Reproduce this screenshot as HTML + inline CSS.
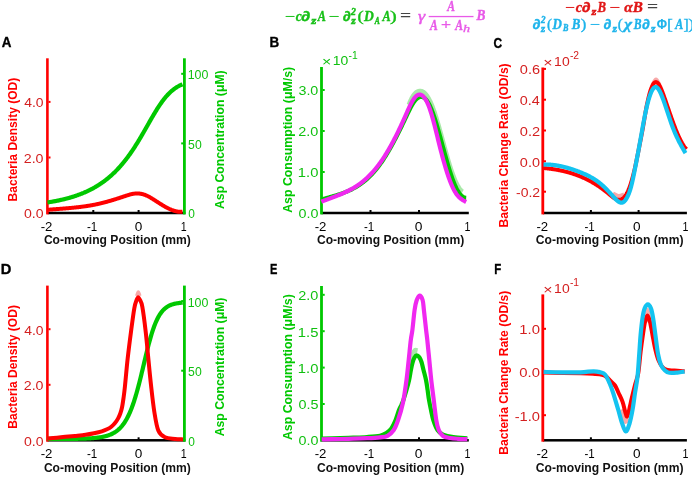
<!DOCTYPE html>
<html><head><meta charset="utf-8"><style>
html,body{margin:0;padding:0;background:#fff;overflow:hidden}
svg{display:block;will-change:transform}
text{font-family:"Liberation Sans",sans-serif}
</style></head><body>
<svg width="692" height="480" viewBox="0 0 692 480">
<rect width="692" height="480" fill="#fff"/>
<text x="1.67" y="46.90" font-size="14" font-weight="bold" fill="#000" textLength="9.69" lengthAdjust="spacingAndGlyphs" stroke="#000" stroke-width="0.35">A</text>
<text x="269.50" y="46.90" font-size="14" font-weight="bold" fill="#000" textLength="9.71" lengthAdjust="spacingAndGlyphs" stroke="#000" stroke-width="0.35">B</text>
<text x="493.51" y="47.50" font-size="14" font-weight="bold" fill="#000" textLength="8.62" lengthAdjust="spacingAndGlyphs" stroke="#000" stroke-width="0.35">C</text>
<text x="0.82" y="273.90" font-size="14" font-weight="bold" fill="#000" textLength="10.60" lengthAdjust="spacingAndGlyphs" stroke="#000" stroke-width="0.35">D</text>
<text x="270.06" y="273.90" font-size="14" font-weight="bold" fill="#000" textLength="7.37" lengthAdjust="spacingAndGlyphs" stroke="#000" stroke-width="0.35">E</text>
<text x="494.24" y="273.90" font-size="14" font-weight="bold" fill="#000" textLength="6.98" lengthAdjust="spacingAndGlyphs" stroke="#000" stroke-width="0.35">F</text>
<rect x="47.50" y="211.75" width="137.80" height="2.50" fill="#000"/>
<rect x="92.30" y="210.00" width="2" height="2" fill="#000"/>
<rect x="137.60" y="210.00" width="2" height="2" fill="#000"/>
<text x="40.71" y="230.60" font-size="13" font-weight="normal" fill="#000" textLength="11.75" lengthAdjust="spacingAndGlyphs">-2</text>
<text x="86.89" y="230.60" font-size="13" font-weight="normal" fill="#000" textLength="10.28" lengthAdjust="spacingAndGlyphs">-1</text>
<text x="134.67" y="230.60" font-size="13" font-weight="normal" fill="#000" textLength="7.56" lengthAdjust="spacingAndGlyphs">0</text>
<text x="180.69" y="230.60" font-size="13" font-weight="normal" fill="#000" textLength="5.93" lengthAdjust="spacingAndGlyphs">1</text>
<rect x="46.10" y="58.30" width="2.60" height="156.10" fill="#ff0000"/>
<rect x="48.50" y="156.50" width="2" height="2" fill="#ff0000"/>
<rect x="48.50" y="100.90" width="2" height="2" fill="#ff0000"/>
<text x="23.95" y="218.40" font-size="13" font-weight="normal" fill="#d42020" textLength="19.60" lengthAdjust="spacingAndGlyphs">0.0</text>
<text x="23.78" y="162.90" font-size="13" font-weight="normal" fill="#d42020" textLength="19.77" lengthAdjust="spacingAndGlyphs">2.0</text>
<text x="24.18" y="107.30" font-size="13" font-weight="normal" fill="#d42020" textLength="19.36" lengthAdjust="spacingAndGlyphs">4.0</text>
<rect x="183.00" y="58.30" width="2.80" height="156.10" fill="#00c800"/>
<rect x="181.20" y="142.40" width="2" height="2" fill="#00c800"/>
<rect x="181.20" y="72.80" width="2" height="2" fill="#00c800"/>
<text x="188.13" y="218.40" font-size="13" font-weight="normal" fill="#10c010" textLength="6.63" lengthAdjust="spacingAndGlyphs">0</text>
<text x="188.11" y="148.80" font-size="13" font-weight="normal" fill="#10c010" textLength="13.56" lengthAdjust="spacingAndGlyphs">50</text>
<text x="187.65" y="79.20" font-size="13" font-weight="normal" fill="#10c010" textLength="20.73" lengthAdjust="spacingAndGlyphs">100</text>
<text x="43.90" y="244.20" font-size="12" font-weight="bold" fill="#111" textLength="147.00" lengthAdjust="spacingAndGlyphs">Co-moving Position (mm)</text>
<text transform="translate(17.30,200.60) rotate(-90)" x="-0.80" y="0" font-size="12" font-weight="bold" fill="#ff0000" textLength="123.60" lengthAdjust="spacingAndGlyphs">Bacteria Density (OD)</text>
<text transform="translate(224.00,208.70) rotate(-90)" x="-0.30" y="0" font-size="12" font-weight="bold" fill="#00c800" textLength="138.71" lengthAdjust="spacingAndGlyphs">Asp Concentration (μM)</text>
<path d="M47.50,202.45 L48.00,202.38 L48.50,202.30 L49.00,202.22 L49.50,202.14 L50.00,202.05 L50.50,201.97 L51.00,201.89 L51.50,201.80 L52.00,201.71 L52.50,201.62 L53.00,201.53 L53.50,201.44 L54.00,201.35 L54.50,201.26 L55.00,201.16 L55.50,201.07 L56.00,200.97 L56.50,200.87 L57.00,200.77 L57.50,200.67 L58.00,200.57 L58.50,200.46 L59.00,200.36 L59.50,200.25 L60.00,200.14 L60.50,200.03 L61.00,199.92 L61.50,199.81 L62.00,199.69 L62.50,199.57 L63.00,199.46 L63.50,199.34 L64.00,199.21 L64.50,199.09 L65.00,198.97 L65.50,198.84 L66.00,198.71 L66.50,198.58 L67.00,198.45 L67.50,198.31 L68.00,198.18 L68.50,198.04 L69.00,197.90 L69.50,197.76 L70.00,197.62 L70.50,197.47 L71.00,197.32 L71.50,197.17 L72.00,197.02 L72.50,196.87 L73.00,196.71 L73.50,196.55 L74.00,196.39 L74.50,196.23 L75.00,196.07 L75.50,195.90 L76.00,195.73 L76.50,195.56 L77.00,195.38 L77.50,195.21 L78.00,195.03 L78.50,194.85 L79.00,194.66 L79.50,194.48 L80.00,194.29 L80.50,194.09 L81.00,193.90 L81.50,193.70 L82.00,193.50 L82.50,193.30 L83.00,193.09 L83.50,192.89 L84.00,192.67 L84.50,192.46 L85.00,192.24 L85.50,192.02 L86.00,191.80 L86.50,191.57 L87.00,191.34 L87.50,191.11 L88.00,190.87 L88.50,190.63 L89.00,190.39 L89.50,190.15 L90.00,189.90 L90.50,189.64 L91.00,189.39 L91.50,189.13 L92.00,188.86 L92.50,188.60 L93.00,188.32 L93.50,188.05 L94.00,187.77 L94.50,187.49 L95.00,187.20 L95.50,186.91 L96.00,186.62 L96.50,186.32 L97.00,186.02 L97.50,185.71 L98.00,185.40 L98.50,185.08 L99.00,184.77 L99.50,184.44 L100.00,184.11 L100.50,183.78 L101.00,183.44 L101.50,183.10 L102.00,182.75 L102.50,182.40 L103.00,182.05 L103.50,181.69 L104.00,181.32 L104.50,180.95 L105.00,180.57 L105.50,180.19 L106.00,179.80 L106.50,179.41 L107.00,179.02 L107.50,178.61 L108.00,178.21 L108.50,177.79 L109.00,177.37 L109.50,176.95 L110.00,176.52 L110.50,176.08 L111.00,175.64 L111.50,175.19 L112.00,174.74 L112.50,174.28 L113.00,173.82 L113.50,173.34 L114.00,172.87 L114.50,172.38 L115.00,171.89 L115.50,171.39 L116.00,170.89 L116.50,170.38 L117.00,169.86 L117.50,169.34 L118.00,168.81 L118.50,168.27 L119.00,167.73 L119.50,167.18 L120.00,166.62 L120.50,166.06 L121.00,165.49 L121.50,164.91 L122.00,164.32 L122.50,163.73 L123.00,163.13 L123.50,162.52 L124.00,161.91 L124.50,161.28 L125.00,160.66 L125.50,160.02 L126.00,159.37 L126.50,158.72 L127.00,158.06 L127.50,157.40 L128.00,156.72 L128.50,156.04 L129.00,155.35 L129.50,154.66 L130.00,153.95 L130.50,153.24 L131.00,152.52 L131.50,151.80 L132.00,151.06 L132.50,150.32 L133.00,149.58 L133.50,148.82 L134.00,148.06 L134.50,147.29 L135.00,146.52 L135.50,145.73 L136.00,144.94 L136.50,144.15 L137.00,143.35 L137.50,142.54 L138.00,141.73 L138.50,140.91 L139.00,140.08 L139.50,139.25 L140.00,138.41 L140.50,137.57 L141.00,136.73 L141.50,135.88 L142.00,135.02 L142.50,134.16 L143.00,133.30 L143.50,132.43 L144.00,131.56 L144.50,130.69 L145.00,129.82 L145.50,128.94 L146.00,128.06 L146.50,127.19 L147.00,126.31 L147.50,125.43 L148.00,124.55 L148.50,123.67 L149.00,122.79 L149.50,121.91 L150.00,121.03 L150.50,120.16 L151.00,119.29 L151.50,118.42 L152.00,117.56 L152.50,116.70 L153.00,115.84 L153.50,114.99 L154.00,114.15 L154.50,113.31 L155.00,112.48 L155.50,111.65 L156.00,110.84 L156.50,110.03 L157.00,109.23 L157.50,108.44 L158.00,107.65 L158.50,106.88 L159.00,106.12 L159.50,105.37 L160.00,104.63 L160.50,103.90 L161.00,103.18 L161.50,102.47 L162.00,101.78 L162.50,101.10 L163.00,100.43 L163.50,99.77 L164.00,99.13 L164.50,98.50 L165.00,97.89 L165.50,97.28 L166.00,96.69 L166.50,96.12 L167.00,95.56 L167.50,95.01 L168.00,94.47 L168.50,93.95 L169.00,93.44 L169.50,92.95 L170.00,92.47 L170.50,92.00 L171.00,91.55 L171.50,91.11 L172.00,90.68 L172.50,90.27 L173.00,89.87 L173.50,89.48 L174.00,89.10 L174.50,88.73 L175.00,88.38 L175.50,88.04 L176.00,87.71 L176.50,87.39 L177.00,87.08 L177.50,86.78 L178.00,86.50 L178.50,86.22 L179.00,85.95 L179.50,85.69 L180.00,85.45 L180.50,85.21 L181.00,84.98 L181.50,84.76 L182.00,84.54 L182.50,84.34" fill="none" stroke="#00c800" stroke-width="4.2" stroke-linejoin="round" stroke-linecap="butt"/>
<path d="M47.50,209.80 L48.00,209.76 L48.50,209.72 L49.00,209.68 L49.50,209.64 L50.00,209.60 L50.50,209.56 L51.00,209.52 L51.50,209.48 L52.00,209.44 L52.50,209.40 L53.00,209.36 L53.50,209.33 L54.00,209.29 L54.50,209.25 L55.00,209.21 L55.50,209.17 L56.00,209.14 L56.50,209.10 L57.00,209.06 L57.50,209.02 L58.00,208.98 L58.50,208.95 L59.00,208.91 L59.50,208.87 L60.00,208.83 L60.50,208.79 L61.00,208.75 L61.50,208.72 L62.00,208.68 L62.50,208.64 L63.00,208.60 L63.50,208.56 L64.00,208.52 L64.50,208.48 L65.00,208.44 L65.50,208.40 L66.00,208.35 L66.50,208.31 L67.00,208.27 L67.50,208.23 L68.00,208.18 L68.50,208.14 L69.00,208.10 L69.50,208.05 L70.00,208.01 L70.50,207.96 L71.00,207.91 L71.50,207.87 L72.00,207.82 L72.50,207.77 L73.00,207.72 L73.50,207.67 L74.00,207.62 L74.50,207.57 L75.00,207.52 L75.50,207.47 L76.00,207.41 L76.50,207.36 L77.00,207.31 L77.50,207.25 L78.00,207.19 L78.50,207.14 L79.00,207.08 L79.50,207.02 L80.00,206.96 L80.50,206.90 L81.00,206.83 L81.50,206.77 L82.00,206.71 L82.50,206.64 L83.00,206.57 L83.50,206.51 L84.00,206.44 L84.50,206.37 L85.00,206.30 L85.50,206.22 L86.00,206.15 L86.50,206.07 L87.00,206.00 L87.50,205.92 L88.00,205.84 L88.50,205.76 L89.00,205.68 L89.50,205.60 L90.00,205.51 L90.50,205.43 L91.00,205.34 L91.50,205.25 L92.00,205.16 L92.50,205.07 L93.00,204.98 L93.50,204.89 L94.00,204.79 L94.50,204.69 L95.00,204.59 L95.50,204.49 L96.00,204.39 L96.50,204.29 L97.00,204.18 L97.50,204.08 L98.00,203.97 L98.50,203.86 L99.00,203.74 L99.50,203.63 L100.00,203.51 L100.50,203.40 L101.00,203.28 L101.50,203.16 L102.00,203.03 L102.50,202.91 L103.00,202.78 L103.50,202.65 L104.00,202.52 L104.50,202.39 L105.00,202.26 L105.50,202.13 L106.00,201.99 L106.50,201.86 L107.00,201.72 L107.50,201.58 L108.00,201.44 L108.50,201.29 L109.00,201.15 L109.50,201.01 L110.00,200.86 L110.50,200.71 L111.00,200.57 L111.50,200.42 L112.00,200.27 L112.50,200.11 L113.00,199.96 L113.50,199.81 L114.00,199.65 L114.50,199.50 L115.00,199.34 L115.50,199.19 L116.00,199.03 L116.50,198.87 L117.00,198.71 L117.50,198.55 L118.00,198.39 L118.50,198.23 L119.00,198.07 L119.50,197.91 L120.00,197.74 L120.50,197.58 L121.00,197.42 L121.50,197.25 L122.00,197.09 L122.50,196.92 L123.00,196.76 L123.50,196.59 L124.00,196.43 L124.50,196.26 L125.00,196.10 L125.50,195.93 L126.00,195.77 L126.50,195.60 L127.00,195.44 L127.50,195.28 L128.00,195.12 L128.50,194.97 L129.00,194.82 L129.50,194.67 L130.00,194.53 L130.50,194.40 L131.00,194.27 L131.50,194.15 L132.00,194.04 L132.50,193.93 L133.00,193.84 L133.50,193.76 L134.00,193.68 L134.50,193.62 L135.00,193.57 L135.50,193.52 L136.00,193.49 L136.50,193.48 L137.00,193.47 L137.50,193.47 L138.00,193.49 L138.50,193.51 L139.00,193.55 L139.50,193.60 L140.00,193.67 L140.50,193.74 L141.00,193.82 L141.50,193.92 L142.00,194.03 L142.50,194.15 L143.00,194.29 L143.50,194.43 L144.00,194.59 L144.50,194.76 L145.00,194.94 L145.50,195.14 L146.00,195.34 L146.50,195.56 L147.00,195.79 L147.50,196.03 L148.00,196.28 L148.50,196.53 L149.00,196.80 L149.50,197.07 L150.00,197.35 L150.50,197.64 L151.00,197.93 L151.50,198.23 L152.00,198.53 L152.50,198.84 L153.00,199.15 L153.50,199.47 L154.00,199.78 L154.50,200.10 L155.00,200.42 L155.50,200.75 L156.00,201.07 L156.50,201.39 L157.00,201.71 L157.50,202.04 L158.00,202.36 L158.50,202.68 L159.00,203.00 L159.50,203.32 L160.00,203.63 L160.50,203.95 L161.00,204.26 L161.50,204.57 L162.00,204.88 L162.50,205.18 L163.00,205.49 L163.50,205.78 L164.00,206.08 L164.50,206.37 L165.00,206.65 L165.50,206.93 L166.00,207.21 L166.50,207.48 L167.00,207.75 L167.50,208.01 L168.00,208.26 L168.50,208.51 L169.00,208.75 L169.50,208.98 L170.00,209.21 L170.50,209.43 L171.00,209.64 L171.50,209.85 L172.00,210.04 L172.50,210.23 L173.00,210.41 L173.50,210.58 L174.00,210.74 L174.50,210.89 L175.00,211.03 L175.50,211.16 L176.00,211.28 L176.50,211.39 L177.00,211.49 L177.50,211.58 L178.00,211.66 L178.50,211.72 L179.00,211.78 L179.50,211.82 L180.00,211.85 L180.50,211.86 L181.00,211.86 L181.50,211.85 L182.00,211.83 L182.50,211.79" fill="none" stroke="#ff0000" stroke-width="4.0" stroke-linejoin="round" stroke-linecap="butt"/>
<rect x="321.30" y="211.75" width="147.50" height="2.50" fill="#000"/>
<rect x="369.50" y="210.00" width="2" height="2" fill="#000"/>
<rect x="418.00" y="210.00" width="2" height="2" fill="#000"/>
<text x="314.71" y="230.60" font-size="13" font-weight="normal" fill="#000" textLength="11.75" lengthAdjust="spacingAndGlyphs">-2</text>
<text x="363.99" y="230.60" font-size="13" font-weight="normal" fill="#000" textLength="10.28" lengthAdjust="spacingAndGlyphs">-1</text>
<text x="414.66" y="230.60" font-size="13" font-weight="normal" fill="#000" textLength="7.68" lengthAdjust="spacingAndGlyphs">0</text>
<text x="464.49" y="230.60" font-size="13" font-weight="normal" fill="#000" textLength="5.93" lengthAdjust="spacingAndGlyphs">1</text>
<rect x="320.10" y="67.00" width="2.80" height="147.40" fill="#00c800"/>
<rect x="322.70" y="171.00" width="2" height="2" fill="#00c800"/>
<rect x="322.70" y="130.00" width="2" height="2" fill="#00c800"/>
<rect x="322.70" y="89.00" width="2" height="2" fill="#00c800"/>
<text x="298.44" y="218.40" font-size="13" font-weight="normal" fill="#10c010" textLength="19.92" lengthAdjust="spacingAndGlyphs">0.0</text>
<text x="297.88" y="177.40" font-size="13" font-weight="normal" fill="#10c010" textLength="20.50" lengthAdjust="spacingAndGlyphs">1.0</text>
<text x="298.27" y="136.40" font-size="13" font-weight="normal" fill="#10c010" textLength="20.09" lengthAdjust="spacingAndGlyphs">2.0</text>
<text x="298.45" y="95.40" font-size="13" font-weight="normal" fill="#10c010" textLength="19.90" lengthAdjust="spacingAndGlyphs">3.0</text>
<text x="316.90" y="244.20" font-size="12" font-weight="bold" fill="#111" textLength="147.30" lengthAdjust="spacingAndGlyphs">Co-moving Position (mm)</text>
<text transform="translate(292.00,212.50) rotate(-90)" x="-0.31" y="0" font-size="12" font-weight="bold" fill="#00c800" textLength="145.92" lengthAdjust="spacingAndGlyphs">Asp Consumption (μM/s)</text>
<text x="321.90" y="66.10" font-size="13" font-weight="normal" fill="#10c010" textLength="9.30" lengthAdjust="spacingAndGlyphs">×</text>
<text x="332.84" y="65.30" font-size="12.5" font-weight="normal" fill="#10c010" textLength="15.51" lengthAdjust="spacingAndGlyphs">10</text>
<text x="348.64" y="58.70" font-size="10" font-weight="normal" fill="#10c010" textLength="9.16" lengthAdjust="spacingAndGlyphs">-1</text>
<path d="M410.00,105.19 L410.50,103.90 L411.00,102.68 L411.50,101.52 L412.00,100.44 L412.50,99.42 L413.00,98.48 L413.50,97.60 L414.00,96.79 L414.50,96.05 L415.00,95.37 L415.50,94.76 L416.00,94.22 L416.50,93.74 L417.00,93.33 L417.50,92.98 L418.00,92.70 L418.50,92.48 L419.00,92.32 L419.50,92.23 L420.00,92.20 L420.50,92.23 L421.00,92.32 L421.50,92.47 L422.00,92.69 L422.50,92.96 L423.00,93.29 L423.50,93.69 L424.00,94.14 L424.50,94.65 L425.00,95.21 L425.50,95.84 L426.00,96.52 L426.50,97.26 L427.00,98.05 L427.50,98.90 L428.00,99.80 L428.50,100.76 L429.00,101.77 L429.50,102.84 L430.00,103.96 L430.50,105.13 L431.00,106.35 L431.50,107.63 L432.00,108.95 L432.50,110.33 L433.00,111.76 L433.50,113.23 L434.00,114.74 L434.50,116.29 L435.00,117.89 L435.50,119.51 L436.00,121.17 L436.50,122.86 L437.00,124.58 L437.50,126.32 L438.00,128.08 L438.50,129.86 L439.00,131.65 L439.50,133.47 L440.00,135.29 L440.50,137.12 L441.00,138.96 L441.50,140.80 L442.00,142.64 L442.50,144.48 L443.00,146.31 L443.50,148.14 L444.00,149.95 L444.50,151.76 L445.00,153.55 L445.50,155.32 L446.00,157.07 L446.50,158.80 L447.00,160.50 L447.50,162.17 L448.00,163.82 L448.50,165.43 L449.00,167.01 L449.50,168.56 L450.00,170.07 L450.50,171.55 L451.00,172.99 L451.50,174.39 L452.00,175.75 L452.50,177.07 L453.00,178.35 L453.50,179.58 L454.00,180.77 L454.50,181.91 L455.00,183.01 L455.50,184.05 L456.00,185.05 L456.50,186.00 L457.00,186.89 L457.50,187.73 L458.00,188.51 L458.50,189.24 L459.00,189.91 L459.50,190.52 L460.00,191.07 L460.50,191.56 L461.00,191.99 L461.50,192.35 L462.00,192.65" fill="none" stroke="#a8e8a8" stroke-width="7" stroke-linejoin="round" stroke-linecap="butt"/>
<path d="M321.40,199.59 L321.90,199.44 L322.40,199.29 L322.90,199.14 L323.40,198.99 L323.90,198.84 L324.40,198.69 L324.90,198.55 L325.40,198.40 L325.90,198.26 L326.40,198.12 L326.90,197.97 L327.40,197.83 L327.90,197.69 L328.40,197.55 L328.90,197.41 L329.40,197.27 L329.90,197.13 L330.40,196.99 L330.90,196.84 L331.40,196.70 L331.90,196.56 L332.40,196.42 L332.90,196.27 L333.40,196.13 L333.90,195.99 L334.40,195.84 L334.90,195.69 L335.40,195.54 L335.90,195.39 L336.40,195.24 L336.90,195.09 L337.40,194.94 L337.90,194.78 L338.40,194.62 L338.90,194.46 L339.40,194.30 L339.90,194.14 L340.40,193.97 L340.90,193.80 L341.40,193.63 L341.90,193.46 L342.40,193.28 L342.90,193.10 L343.40,192.92 L343.90,192.73 L344.40,192.54 L344.90,192.35 L345.40,192.16 L345.90,191.96 L346.40,191.76 L346.90,191.55 L347.40,191.34 L347.90,191.13 L348.40,190.91 L348.90,190.69 L349.40,190.46 L349.90,190.24 L350.40,190.00 L350.90,189.76 L351.40,189.52 L351.90,189.27 L352.40,189.02 L352.90,188.76 L353.40,188.50 L353.90,188.23 L354.40,187.96 L354.90,187.68 L355.40,187.39 L355.90,187.10 L356.40,186.81 L356.90,186.51 L357.40,186.20 L357.90,185.89 L358.40,185.57 L358.90,185.24 L359.40,184.91 L359.90,184.57 L360.40,184.23 L360.90,183.88 L361.40,183.52 L361.90,183.15 L362.40,182.78 L362.90,182.40 L363.40,182.02 L363.90,181.62 L364.40,181.22 L364.90,180.81 L365.40,180.40 L365.90,179.97 L366.40,179.54 L366.90,179.10 L367.40,178.65 L367.90,178.20 L368.40,177.74 L368.90,177.26 L369.40,176.78 L369.90,176.29 L370.40,175.80 L370.90,175.29 L371.40,174.77 L371.90,174.25 L372.40,173.72 L372.90,173.17 L373.40,172.62 L373.90,172.06 L374.40,171.49 L374.90,170.91 L375.40,170.32 L375.90,169.72 L376.40,169.11 L376.90,168.49 L377.40,167.86 L377.90,167.22 L378.40,166.57 L378.90,165.90 L379.40,165.23 L379.90,164.55 L380.40,163.86 L380.90,163.15 L381.40,162.44 L381.90,161.71 L382.40,160.98 L382.90,160.23 L383.40,159.48 L383.90,158.71 L384.40,157.93 L384.90,157.15 L385.40,156.36 L385.90,155.55 L386.40,154.74 L386.90,153.92 L387.40,153.09 L387.90,152.25 L388.40,151.40 L388.90,150.54 L389.40,149.68 L389.90,148.80 L390.40,147.92 L390.90,147.03 L391.40,146.13 L391.90,145.23 L392.40,144.31 L392.90,143.39 L393.40,142.47 L393.90,141.53 L394.40,140.59 L394.90,139.64 L395.40,138.69 L395.90,137.72 L396.40,136.76 L396.90,135.78 L397.40,134.80 L397.90,133.81 L398.40,132.82 L398.90,131.82 L399.40,130.82 L399.90,129.80 L400.40,128.79 L400.90,127.77 L401.40,126.74 L401.90,125.71 L402.40,124.68 L402.90,123.63 L403.40,122.59 L403.90,121.54 L404.40,120.49 L404.90,119.43 L405.40,118.37 L405.90,117.30 L406.40,116.24 L406.90,115.18 L407.40,114.12 L407.90,113.08 L408.40,112.04 L408.90,111.02 L409.40,110.02 L409.90,109.03 L410.40,108.07 L410.90,107.13 L411.40,106.22 L411.90,105.33 L412.40,104.48 L412.90,103.66 L413.40,102.88 L413.90,102.14 L414.40,101.44 L414.90,100.79 L415.40,100.18 L415.90,99.62 L416.40,99.11 L416.90,98.65 L417.40,98.24 L417.90,97.88 L418.40,97.58 L418.90,97.32 L419.40,97.11 L419.90,96.96 L420.40,96.86 L420.90,96.82 L421.40,96.83 L421.90,96.89 L422.40,97.01 L422.90,97.18 L423.40,97.41 L423.90,97.70 L424.40,98.05 L424.90,98.45 L425.40,98.91 L425.90,99.43 L426.40,100.01 L426.90,100.64 L427.40,101.34 L427.90,102.10 L428.40,102.92 L428.90,103.81 L429.40,104.75 L429.90,105.76 L430.40,106.83 L430.90,107.97 L431.40,109.16 L431.90,110.41 L432.40,111.71 L432.90,113.06 L433.40,114.46 L433.90,115.91 L434.40,117.40 L434.90,118.93 L435.40,120.50 L435.90,122.10 L436.40,123.73 L436.90,125.40 L437.40,127.09 L437.90,128.81 L438.40,130.55 L438.90,132.31 L439.40,134.08 L439.90,135.87 L440.40,137.67 L440.90,139.48 L441.40,141.30 L441.90,143.12 L442.40,144.94 L442.90,146.77 L443.40,148.59 L443.90,150.41 L444.40,152.22 L444.90,154.03 L445.40,155.82 L445.90,157.61 L446.40,159.37 L446.90,161.12 L447.40,162.85 L447.90,164.56 L448.40,166.25 L448.90,167.91 L449.40,169.54 L449.90,171.14 L450.40,172.71 L450.90,174.24 L451.40,175.74 L451.90,177.20 L452.40,178.62 L452.90,179.99 L453.40,181.32 L453.90,182.60 L454.40,183.83 L454.90,185.01 L455.40,186.14 L455.90,187.21 L456.40,188.23 L456.90,189.19 L457.40,190.10 L457.90,190.96 L458.40,191.77 L458.90,192.52 L459.40,193.22 L459.90,193.87 L460.40,194.47 L460.90,195.02 L461.40,195.52 L461.90,195.97 L462.40,196.38 L462.90,196.73 L463.40,197.03 L463.90,197.29 L464.40,197.50 L464.90,197.66 L465.40,197.78 L465.90,197.85 L466.20,197.87" fill="none" stroke="#00c800" stroke-width="4.2" stroke-linejoin="round" stroke-linecap="butt"/>
<path d="M321.40,201.70 L321.90,201.50 L322.40,201.30 L322.90,201.10 L323.40,200.90 L323.90,200.71 L324.40,200.51 L324.90,200.32 L325.40,200.12 L325.90,199.93 L326.40,199.74 L326.90,199.55 L327.40,199.36 L327.90,199.18 L328.40,198.99 L328.90,198.80 L329.40,198.61 L329.90,198.43 L330.40,198.24 L330.90,198.06 L331.40,197.87 L331.90,197.68 L332.40,197.50 L332.90,197.31 L333.40,197.12 L333.90,196.93 L334.40,196.74 L334.90,196.55 L335.40,196.36 L335.90,196.17 L336.40,195.98 L336.90,195.78 L337.40,195.59 L337.90,195.39 L338.40,195.19 L338.90,194.99 L339.40,194.79 L339.90,194.59 L340.40,194.38 L340.90,194.18 L341.40,193.97 L341.90,193.75 L342.40,193.54 L342.90,193.32 L343.40,193.10 L343.90,192.88 L344.40,192.66 L344.90,192.43 L345.40,192.20 L345.90,191.97 L346.40,191.73 L346.90,191.49 L347.40,191.25 L347.90,191.00 L348.40,190.75 L348.90,190.49 L349.40,190.24 L349.90,189.97 L350.40,189.71 L350.90,189.44 L351.40,189.16 L351.90,188.89 L352.40,188.60 L352.90,188.31 L353.40,188.02 L353.90,187.73 L354.40,187.42 L354.90,187.12 L355.40,186.81 L355.90,186.49 L356.40,186.17 L356.90,185.84 L357.40,185.51 L357.90,185.17 L358.40,184.82 L358.90,184.47 L359.40,184.12 L359.90,183.75 L360.40,183.39 L360.90,183.01 L361.40,182.63 L361.90,182.25 L362.40,181.85 L362.90,181.45 L363.40,181.05 L363.90,180.63 L364.40,180.21 L364.90,179.78 L365.40,179.35 L365.90,178.91 L366.40,178.46 L366.90,178.00 L367.40,177.54 L367.90,177.07 L368.40,176.59 L368.90,176.10 L369.40,175.60 L369.90,175.10 L370.40,174.59 L370.90,174.07 L371.40,173.54 L371.90,173.00 L372.40,172.46 L372.90,171.90 L373.40,171.34 L373.90,170.77 L374.40,170.19 L374.90,169.60 L375.40,169.00 L375.90,168.39 L376.40,167.77 L376.90,167.15 L377.40,166.51 L377.90,165.86 L378.40,165.21 L378.90,164.54 L379.40,163.87 L379.90,163.18 L380.40,162.48 L380.90,161.78 L381.40,161.06 L381.90,160.33 L382.40,159.59 L382.90,158.85 L383.40,158.09 L383.90,157.32 L384.40,156.55 L384.90,155.76 L385.40,154.96 L385.90,154.16 L386.40,153.34 L386.90,152.52 L387.40,151.68 L387.90,150.84 L388.40,149.99 L388.90,149.13 L389.40,148.25 L389.90,147.37 L390.40,146.48 L390.90,145.59 L391.40,144.68 L391.90,143.76 L392.40,142.84 L392.90,141.90 L393.40,140.96 L393.90,140.01 L394.40,139.05 L394.90,138.08 L395.40,137.11 L395.90,136.12 L396.40,135.13 L396.90,134.13 L397.40,133.12 L397.90,132.10 L398.40,131.07 L398.90,130.04 L399.40,129.00 L399.90,127.95 L400.40,126.89 L400.90,125.82 L401.40,124.75 L401.90,123.67 L402.40,122.58 L402.90,121.48 L403.40,120.38 L403.90,119.27 L404.40,118.15 L404.90,117.03 L405.40,115.89 L405.90,114.76 L406.40,113.62 L406.90,112.48 L407.40,111.35 L407.90,110.23 L408.40,109.13 L408.90,108.03 L409.40,106.96 L409.90,105.91 L410.40,104.89 L410.90,103.90 L411.40,102.94 L411.90,102.02 L412.40,101.14 L412.90,100.30 L413.40,99.51 L413.90,98.77 L414.40,98.08 L414.90,97.45 L415.40,96.88 L415.90,96.38 L416.40,95.94 L416.90,95.55 L417.40,95.24 L417.90,94.98 L418.40,94.80 L418.90,94.67 L419.40,94.61 L419.90,94.62 L420.40,94.69 L420.90,94.83 L421.40,95.04 L421.90,95.31 L422.40,95.65 L422.90,96.06 L423.40,96.54 L423.90,97.09 L424.40,97.71 L424.90,98.40 L425.40,99.16 L425.90,99.99 L426.40,100.89 L426.90,101.87 L427.40,102.91 L427.90,104.03 L428.40,105.23 L428.90,106.50 L429.40,107.84 L429.90,109.26 L430.40,110.75 L430.90,112.31 L431.40,113.94 L431.90,115.63 L432.40,117.38 L432.90,119.18 L433.40,121.03 L433.90,122.91 L434.40,124.84 L434.90,126.79 L435.40,128.77 L435.90,130.78 L436.40,132.80 L436.90,134.83 L437.40,136.87 L437.90,138.91 L438.40,140.95 L438.90,142.97 L439.40,144.99 L439.90,146.99 L440.40,148.96 L440.90,150.91 L441.40,152.83 L441.90,154.73 L442.40,156.60 L442.90,158.44 L443.40,160.25 L443.90,162.03 L444.40,163.78 L444.90,165.49 L445.40,167.18 L445.90,168.83 L446.40,170.44 L446.90,172.02 L447.40,173.56 L447.90,175.06 L448.40,176.53 L448.90,177.96 L449.40,179.34 L449.90,180.68 L450.40,181.99 L450.90,183.24 L451.40,184.46 L451.90,185.63 L452.40,186.75 L452.90,187.83 L453.40,188.85 L453.90,189.83 L454.40,190.76 L454.90,191.64 L455.40,192.47 L455.90,193.25 L456.40,193.98 L456.90,194.67 L457.40,195.31 L457.90,195.91 L458.40,196.48 L458.90,197.00 L459.40,197.49 L459.90,197.95 L460.40,198.38 L460.90,198.79 L461.40,199.16 L461.90,199.52 L462.40,199.85 L462.90,200.16 L463.40,200.46 L463.90,200.74 L464.40,201.01 L464.90,201.27 L465.40,201.52 L465.90,201.77 L466.20,201.91" fill="none" stroke="#f028f0" stroke-width="4.2" stroke-linejoin="round" stroke-linecap="butt"/>
<rect x="543.00" y="211.75" width="143.90" height="2.50" fill="#000"/>
<rect x="589.90" y="210.00" width="2" height="2" fill="#000"/>
<rect x="637.60" y="210.00" width="2" height="2" fill="#000"/>
<text x="536.41" y="230.60" font-size="13" font-weight="normal" fill="#000" textLength="11.75" lengthAdjust="spacingAndGlyphs">-2</text>
<text x="584.49" y="230.60" font-size="13" font-weight="normal" fill="#000" textLength="10.28" lengthAdjust="spacingAndGlyphs">-1</text>
<text x="632.97" y="230.60" font-size="13" font-weight="normal" fill="#000" textLength="7.56" lengthAdjust="spacingAndGlyphs">0</text>
<text x="682.59" y="230.60" font-size="13" font-weight="normal" fill="#000" textLength="5.93" lengthAdjust="spacingAndGlyphs">1</text>
<rect x="541.40" y="67.50" width="2.80" height="146.90" fill="#ff0000"/>
<rect x="544.00" y="190.70" width="2" height="2" fill="#ff0000"/>
<rect x="544.00" y="160.30" width="2" height="2" fill="#ff0000"/>
<rect x="544.00" y="129.50" width="2" height="2" fill="#ff0000"/>
<rect x="544.00" y="98.70" width="2" height="2" fill="#ff0000"/>
<rect x="544.00" y="67.90" width="2" height="2" fill="#ff0000"/>
<text x="515.98" y="197.10" font-size="13" font-weight="normal" fill="#d42020" textLength="24.13" lengthAdjust="spacingAndGlyphs">-0.2</text>
<text x="519.83" y="166.70" font-size="13" font-weight="normal" fill="#d42020" textLength="20.13" lengthAdjust="spacingAndGlyphs">0.0</text>
<text x="519.83" y="135.90" font-size="13" font-weight="normal" fill="#d42020" textLength="20.31" lengthAdjust="spacingAndGlyphs">0.2</text>
<text x="519.84" y="105.10" font-size="13" font-weight="normal" fill="#d42020" textLength="19.98" lengthAdjust="spacingAndGlyphs">0.4</text>
<text x="519.83" y="74.30" font-size="13" font-weight="normal" fill="#d42020" textLength="20.21" lengthAdjust="spacingAndGlyphs">0.6</text>
<text x="535.80" y="244.20" font-size="12" font-weight="bold" fill="#111" textLength="147.70" lengthAdjust="spacingAndGlyphs">Co-moving Position (mm)</text>
<text transform="translate(508.00,226.60) rotate(-90)" x="-0.81" y="0" font-size="12" font-weight="bold" fill="#ff0000" textLength="164.01" lengthAdjust="spacingAndGlyphs">Bacteria Change Rate (OD/s)</text>
<text x="543.20" y="66.60" font-size="13" font-weight="normal" fill="#d42020" textLength="9.30" lengthAdjust="spacingAndGlyphs">×</text>
<text x="554.14" y="65.80" font-size="12.5" font-weight="normal" fill="#d42020" textLength="15.51" lengthAdjust="spacingAndGlyphs">10</text>
<text x="569.94" y="59.20" font-size="10" font-weight="normal" fill="#d42020" textLength="9.18" lengthAdjust="spacingAndGlyphs">-2</text>
<path d="M613.00,193.50 C613.92,193.92 616.67,195.83 618.50,196.00 C620.33,196.17 623.08,194.75 624.00,194.50" fill="none" stroke="#f8a8a8" stroke-width="4" stroke-linejoin="round" stroke-linecap="butt"/>
<path d="M652.50,85.00 C653.08,84.08 654.83,79.50 656.00,79.50 C657.17,79.50 658.92,84.08 659.50,85.00" fill="none" stroke="#f8a8a8" stroke-width="4" stroke-linejoin="round" stroke-linecap="butt"/>
<path d="M543.50,168.02 L544.00,168.07 L544.50,168.12 L545.00,168.17 L545.50,168.22 L546.00,168.27 L546.50,168.33 L547.00,168.38 L547.50,168.44 L548.00,168.49 L548.50,168.55 L549.00,168.62 L549.50,168.68 L550.00,168.74 L550.50,168.81 L551.00,168.87 L551.50,168.94 L552.00,169.01 L552.50,169.08 L553.00,169.16 L553.50,169.23 L554.00,169.31 L554.50,169.39 L555.00,169.47 L555.50,169.55 L556.00,169.64 L556.50,169.72 L557.00,169.81 L557.50,169.90 L558.00,169.99 L558.50,170.08 L559.00,170.18 L559.50,170.28 L560.00,170.38 L560.50,170.48 L561.00,170.58 L561.50,170.69 L562.00,170.80 L562.50,170.91 L563.00,171.02 L563.50,171.13 L564.00,171.25 L564.50,171.37 L565.00,171.49 L565.50,171.61 L566.00,171.74 L566.50,171.87 L567.00,172.00 L567.50,172.13 L568.00,172.27 L568.50,172.40 L569.00,172.54 L569.50,172.69 L570.00,172.83 L570.50,172.98 L571.00,173.13 L571.50,173.28 L572.00,173.44 L572.50,173.60 L573.00,173.76 L573.50,173.92 L574.00,174.09 L574.50,174.26 L575.00,174.43 L575.50,174.61 L576.00,174.78 L576.50,174.97 L577.00,175.15 L577.50,175.34 L578.00,175.53 L578.50,175.72 L579.00,175.91 L579.50,176.11 L580.00,176.31 L580.50,176.52 L581.00,176.72 L581.50,176.94 L582.00,177.15 L582.50,177.37 L583.00,177.59 L583.50,177.81 L584.00,178.04 L584.50,178.27 L585.00,178.50 L585.50,178.74 L586.00,178.98 L586.50,179.22 L587.00,179.47 L587.50,179.72 L588.00,179.97 L588.50,180.23 L589.00,180.49 L589.50,180.75 L590.00,181.02 L590.50,181.29 L591.00,181.56 L591.50,181.84 L592.00,182.12 L592.50,182.41 L593.00,182.70 L593.50,182.99 L594.00,183.29 L594.50,183.59 L595.00,183.89 L595.50,184.20 L596.00,184.51 L596.50,184.83 L597.00,185.15 L597.50,185.47 L598.00,185.80 L598.50,186.13 L599.00,186.47 L599.50,186.81 L600.00,187.15 L600.50,187.50 L601.00,187.85 L601.50,188.21 L602.00,188.57 L602.50,188.93 L603.00,189.30 L603.50,189.67 L604.00,190.05 L604.50,190.43 L605.00,190.82 L605.50,191.21 L606.00,191.60 L606.50,192.00 L607.00,192.40 L607.50,192.81 L608.00,193.22 L608.50,193.64 L609.00,194.06 L609.50,194.48 L610.00,194.90 L610.50,195.32 L611.00,195.73 L611.50,196.14 L612.00,196.53 L612.50,196.92 L613.00,197.29 L613.50,197.64 L614.00,197.98 L614.50,198.29 L615.00,198.58 L615.50,198.85 L616.00,199.09 L616.50,199.30 L617.00,199.48 L617.50,199.63 L618.00,199.74 L618.50,199.81 L619.00,199.84 L619.50,199.83 L620.00,199.77 L620.50,199.67 L621.00,199.52 L621.50,199.31 L622.00,199.06 L622.50,198.74 L623.00,198.37 L623.50,197.94 L624.00,197.45 L624.50,196.90 L625.00,196.27 L625.50,195.58 L626.00,194.82 L626.50,193.98 L627.00,193.07 L627.50,192.08 L628.00,191.02 L628.50,189.88 L629.00,188.66 L629.50,187.36 L630.00,185.99 L630.50,184.53 L631.00,182.99 L631.50,181.37 L632.00,179.67 L632.50,177.88 L633.00,176.00 L633.50,174.04 L634.00,172.00 L634.50,169.87 L635.00,167.65 L635.50,165.36 L636.00,163.01 L636.50,160.60 L637.00,158.14 L637.50,155.64 L638.00,153.12 L638.50,150.57 L639.00,148.01 L639.50,145.45 L640.00,142.89 L640.50,140.34 L641.00,137.79 L641.50,135.21 L642.00,132.58 L642.50,129.87 L643.00,127.07 L643.50,124.16 L644.00,121.20 L644.50,118.22 L645.00,115.27 L645.50,112.39 L646.00,109.63 L646.50,106.98 L647.00,104.47 L647.50,102.07 L648.00,99.81 L648.50,97.68 L649.00,95.68 L649.50,93.81 L650.00,92.07 L650.50,90.47 L651.00,89.00 L651.50,87.67 L652.00,86.48 L652.50,85.43 L653.00,84.52 L653.50,83.75 L654.00,83.13 L654.50,82.65 L655.00,82.31 L655.50,82.12 L656.00,82.08 L656.50,82.19 L657.00,82.45 L657.50,82.83 L658.00,83.34 L658.50,83.97 L659.00,84.71 L659.50,85.55 L660.00,86.48 L660.50,87.50 L661.00,88.60 L661.50,89.77 L662.00,91.00 L662.50,92.28 L663.00,93.61 L663.50,94.98 L664.00,96.38 L664.50,97.80 L665.00,99.23 L665.50,100.68 L666.00,102.13 L666.50,103.59 L667.00,105.05 L667.50,106.52 L668.00,107.98 L668.50,109.45 L669.00,110.91 L669.50,112.37 L670.00,113.82 L670.50,115.26 L671.00,116.69 L671.50,118.11 L672.00,119.52 L672.50,120.91 L673.00,122.29 L673.50,123.64 L674.00,124.98 L674.50,126.30 L675.00,127.59 L675.50,128.87 L676.00,130.12 L676.50,131.35 L677.00,132.55 L677.50,133.72 L678.00,134.87 L678.50,135.99 L679.00,137.08 L679.50,138.15 L680.00,139.17 L680.50,140.17 L681.00,141.13 L681.50,142.06 L682.00,142.96 L682.50,143.81 L683.00,144.63 L683.50,145.41 L684.00,146.15 L684.50,146.85 L685.00,147.50 L685.50,148.12 L686.00,148.69 L686.50,149.21" fill="none" stroke="#ff0000" stroke-width="4.0" stroke-linejoin="round" stroke-linecap="butt"/>
<path d="M543.50,164.55 L544.00,164.54 L544.50,164.53 L545.00,164.52 L545.50,164.52 L546.00,164.52 L546.50,164.53 L547.00,164.54 L547.50,164.55 L548.00,164.57 L548.50,164.59 L549.00,164.61 L549.50,164.64 L550.00,164.67 L550.50,164.71 L551.00,164.75 L551.50,164.79 L552.00,164.84 L552.50,164.89 L553.00,164.94 L553.50,165.00 L554.00,165.06 L554.50,165.12 L555.00,165.19 L555.50,165.26 L556.00,165.33 L556.50,165.41 L557.00,165.49 L557.50,165.57 L558.00,165.66 L558.50,165.75 L559.00,165.84 L559.50,165.94 L560.00,166.04 L560.50,166.14 L561.00,166.24 L561.50,166.35 L562.00,166.46 L562.50,166.58 L563.00,166.69 L563.50,166.81 L564.00,166.93 L564.50,167.06 L565.00,167.19 L565.50,167.32 L566.00,167.45 L566.50,167.59 L567.00,167.73 L567.50,167.87 L568.00,168.01 L568.50,168.16 L569.00,168.31 L569.50,168.46 L570.00,168.61 L570.50,168.77 L571.00,168.93 L571.50,169.09 L572.00,169.25 L572.50,169.42 L573.00,169.59 L573.50,169.76 L574.00,169.93 L574.50,170.11 L575.00,170.28 L575.50,170.46 L576.00,170.64 L576.50,170.83 L577.00,171.01 L577.50,171.20 L578.00,171.39 L578.50,171.58 L579.00,171.78 L579.50,171.97 L580.00,172.17 L580.50,172.37 L581.00,172.57 L581.50,172.77 L582.00,172.98 L582.50,173.18 L583.00,173.40 L583.50,173.61 L584.00,173.83 L584.50,174.04 L585.00,174.27 L585.50,174.49 L586.00,174.72 L586.50,174.96 L587.00,175.20 L587.50,175.44 L588.00,175.68 L588.50,175.94 L589.00,176.19 L589.50,176.45 L590.00,176.72 L590.50,176.99 L591.00,177.26 L591.50,177.54 L592.00,177.83 L592.50,178.12 L593.00,178.42 L593.50,178.73 L594.00,179.04 L594.50,179.35 L595.00,179.68 L595.50,180.01 L596.00,180.35 L596.50,180.69 L597.00,181.04 L597.50,181.40 L598.00,181.77 L598.50,182.14 L599.00,182.53 L599.50,182.92 L600.00,183.32 L600.50,183.72 L601.00,184.14 L601.50,184.56 L602.00,185.00 L602.50,185.44 L603.00,185.89 L603.50,186.35 L604.00,186.82 L604.50,187.30 L605.00,187.79 L605.50,188.29 L606.00,188.79 L606.50,189.30 L607.00,189.81 L607.50,190.34 L608.00,190.86 L608.50,191.39 L609.00,191.93 L609.50,192.47 L610.00,193.01 L610.50,193.55 L611.00,194.10 L611.50,194.65 L612.00,195.20 L612.50,195.75 L613.00,196.30 L613.50,196.85 L614.00,197.39 L614.50,197.94 L615.00,198.48 L615.50,199.00 L616.00,199.51 L616.50,200.00 L617.00,200.46 L617.50,200.89 L618.00,201.28 L618.50,201.64 L619.00,201.95 L619.50,202.22 L620.00,202.43 L620.50,202.58 L621.00,202.67 L621.50,202.69 L622.00,202.65 L622.50,202.52 L623.00,202.32 L623.50,202.03 L624.00,201.65 L624.50,201.18 L625.00,200.62 L625.50,199.97 L626.00,199.23 L626.50,198.41 L627.00,197.51 L627.50,196.53 L628.00,195.48 L628.50,194.34 L629.00,193.10 L629.50,191.75 L630.00,190.27 L630.50,188.65 L631.00,186.88 L631.50,184.97 L632.00,182.92 L632.50,180.76 L633.00,178.49 L633.50,176.14 L634.00,173.71 L634.50,171.21 L635.00,168.67 L635.50,166.09 L636.00,163.49 L636.50,160.88 L637.00,158.26 L637.50,155.64 L638.00,153.02 L638.50,150.37 L639.00,147.69 L639.50,144.98 L640.00,142.23 L640.50,139.44 L641.00,136.63 L641.50,133.82 L642.00,131.01 L642.50,128.22 L643.00,125.45 L643.50,122.73 L644.00,120.06 L644.50,117.46 L645.00,114.94 L645.50,112.51 L646.00,110.17 L646.50,107.94 L647.00,105.80 L647.50,103.77 L648.00,101.85 L648.50,100.03 L649.00,98.33 L649.50,96.73 L650.00,95.25 L650.50,93.88 L651.00,92.64 L651.50,91.51 L652.00,90.50 L652.50,89.62 L653.00,88.86 L653.50,88.23 L654.00,87.73 L654.50,87.36 L655.00,87.13 L655.50,87.03 L656.00,87.07 L656.50,87.25 L657.00,87.56 L657.50,88.00 L658.00,88.55 L658.50,89.22 L659.00,89.98 L659.50,90.85 L660.00,91.80 L660.50,92.83 L661.00,93.93 L661.50,95.11 L662.00,96.34 L662.50,97.62 L663.00,98.94 L663.50,100.30 L664.00,101.70 L664.50,103.13 L665.00,104.58 L665.50,106.06 L666.00,107.55 L666.50,109.05 L667.00,110.57 L667.50,112.09 L668.00,113.61 L668.50,115.13 L669.00,116.64 L669.50,118.14 L670.00,119.63 L670.50,121.09 L671.00,122.53 L671.50,123.94 L672.00,125.33 L672.50,126.67 L673.00,127.98 L673.50,129.26 L674.00,130.50 L674.50,131.72 L675.00,132.90 L675.50,134.06 L676.00,135.18 L676.50,136.29 L677.00,137.36 L677.50,138.42 L678.00,139.45 L678.50,140.46 L679.00,141.45 L679.50,142.42 L680.00,143.37 L680.50,144.31 L681.00,145.23 L681.50,146.14 L682.00,147.04 L682.50,147.93 L683.00,148.81 L683.50,149.67 L684.00,150.54 L684.50,151.39 L685.00,152.24 L685.50,153.09" fill="none" stroke="#14c3f0" stroke-width="4.2" stroke-linejoin="round" stroke-linecap="butt"/>
<rect x="47.50" y="439.05" width="137.80" height="2.50" fill="#000"/>
<rect x="92.30" y="437.30" width="2" height="2" fill="#000"/>
<rect x="137.60" y="437.30" width="2" height="2" fill="#000"/>
<text x="40.71" y="457.90" font-size="13" font-weight="normal" fill="#000" textLength="11.75" lengthAdjust="spacingAndGlyphs">-2</text>
<text x="86.89" y="457.90" font-size="13" font-weight="normal" fill="#000" textLength="10.28" lengthAdjust="spacingAndGlyphs">-1</text>
<text x="134.67" y="457.90" font-size="13" font-weight="normal" fill="#000" textLength="7.56" lengthAdjust="spacingAndGlyphs">0</text>
<text x="180.69" y="457.90" font-size="13" font-weight="normal" fill="#000" textLength="5.93" lengthAdjust="spacingAndGlyphs">1</text>
<rect x="46.10" y="285.60" width="2.60" height="156.10" fill="#ff0000"/>
<rect x="48.50" y="383.80" width="2" height="2" fill="#ff0000"/>
<rect x="48.50" y="328.20" width="2" height="2" fill="#ff0000"/>
<text x="23.95" y="445.70" font-size="13" font-weight="normal" fill="#d42020" textLength="19.60" lengthAdjust="spacingAndGlyphs">0.0</text>
<text x="23.78" y="390.20" font-size="13" font-weight="normal" fill="#d42020" textLength="19.77" lengthAdjust="spacingAndGlyphs">2.0</text>
<text x="24.18" y="334.60" font-size="13" font-weight="normal" fill="#d42020" textLength="19.36" lengthAdjust="spacingAndGlyphs">4.0</text>
<rect x="183.00" y="285.60" width="2.80" height="156.10" fill="#00c800"/>
<rect x="181.20" y="369.70" width="2" height="2" fill="#00c800"/>
<rect x="181.20" y="300.10" width="2" height="2" fill="#00c800"/>
<text x="188.13" y="445.70" font-size="13" font-weight="normal" fill="#10c010" textLength="6.63" lengthAdjust="spacingAndGlyphs">0</text>
<text x="188.11" y="376.10" font-size="13" font-weight="normal" fill="#10c010" textLength="13.56" lengthAdjust="spacingAndGlyphs">50</text>
<text x="187.65" y="306.50" font-size="13" font-weight="normal" fill="#10c010" textLength="20.73" lengthAdjust="spacingAndGlyphs">100</text>
<text x="43.90" y="471.50" font-size="12" font-weight="bold" fill="#111" textLength="147.00" lengthAdjust="spacingAndGlyphs">Co-moving Position (mm)</text>
<text transform="translate(17.30,427.90) rotate(-90)" x="-0.80" y="0" font-size="12" font-weight="bold" fill="#ff0000" textLength="123.60" lengthAdjust="spacingAndGlyphs">Bacteria Density (OD)</text>
<text transform="translate(224.00,436.00) rotate(-90)" x="-0.30" y="0" font-size="12" font-weight="bold" fill="#00c800" textLength="138.71" lengthAdjust="spacingAndGlyphs">Asp Concentration (μM)</text>
<path d="M136.80,296.00 C137.05,295.33 137.80,292.00 138.30,292.00 C138.80,292.00 139.55,295.33 139.80,296.00" fill="none" stroke="#f8a8a8" stroke-width="3.5" stroke-linejoin="round" stroke-linecap="butt"/>
<path d="M47.70,438.96 L48.20,438.96 L48.70,438.96 L49.20,438.96 L49.70,438.96 L50.20,438.96 L50.70,438.96 L51.20,438.96 L51.70,438.96 L52.20,438.96 L52.70,438.96 L53.20,438.96 L53.70,438.95 L54.20,438.95 L54.70,438.95 L55.20,438.95 L55.70,438.95 L56.20,438.95 L56.70,438.95 L57.20,438.95 L57.70,438.94 L58.20,438.94 L58.70,438.94 L59.20,438.94 L59.70,438.94 L60.20,438.94 L60.70,438.94 L61.20,438.93 L61.70,438.93 L62.20,438.93 L62.70,438.93 L63.20,438.92 L63.70,438.92 L64.20,438.92 L64.70,438.92 L65.20,438.91 L65.70,438.91 L66.20,438.91 L66.70,438.91 L67.20,438.90 L67.70,438.90 L68.20,438.89 L68.70,438.89 L69.20,438.89 L69.70,438.88 L70.20,438.88 L70.70,438.87 L71.20,438.87 L71.70,438.86 L72.20,438.86 L72.70,438.85 L73.20,438.85 L73.70,438.84 L74.20,438.83 L74.70,438.83 L75.20,438.82 L75.70,438.81 L76.20,438.80 L76.70,438.80 L77.20,438.79 L77.70,438.78 L78.20,438.77 L78.70,438.76 L79.20,438.75 L79.70,438.74 L80.20,438.72 L80.70,438.71 L81.20,438.70 L81.70,438.69 L82.20,438.67 L82.70,438.66 L83.20,438.64 L83.70,438.63 L84.20,438.61 L84.70,438.59 L85.20,438.57 L85.70,438.55 L86.20,438.53 L86.70,438.51 L87.20,438.49 L87.70,438.46 L88.20,438.44 L88.70,438.41 L89.20,438.39 L89.70,438.36 L90.20,438.33 L90.70,438.30 L91.20,438.26 L91.70,438.23 L92.20,438.19 L92.70,438.15 L93.20,438.11 L93.70,438.07 L94.20,438.03 L94.70,437.98 L95.20,437.93 L95.70,437.88 L96.20,437.83 L96.70,437.77 L97.20,437.71 L97.70,437.65 L98.20,437.59 L98.70,437.52 L99.20,437.45 L99.70,437.38 L100.20,437.30 L100.70,437.22 L101.20,437.13 L101.70,437.04 L102.20,436.95 L102.70,436.85 L103.20,436.75 L103.70,436.64 L104.20,436.52 L104.70,436.41 L105.20,436.28 L105.70,436.15 L106.20,436.01 L106.70,435.87 L107.20,435.72 L107.70,435.56 L108.20,435.39 L108.70,435.22 L109.20,435.04 L109.70,434.85 L110.20,434.65 L110.70,434.44 L111.20,434.22 L111.70,433.99 L112.20,433.75 L112.70,433.50 L113.20,433.23 L113.70,432.95 L114.20,432.66 L114.70,432.36 L115.20,432.04 L115.70,431.71 L116.20,431.36 L116.70,430.99 L117.20,430.61 L117.70,430.21 L118.20,429.79 L118.70,429.35 L119.20,428.89 L119.70,428.41 L120.20,427.91 L120.70,427.38 L121.20,426.83 L121.70,426.26 L122.20,425.66 L122.70,425.03 L123.20,424.38 L123.70,423.69 L124.20,422.98 L124.70,422.23 L125.20,421.46 L125.70,420.65 L126.20,419.80 L126.70,418.92 L127.20,418.00 L127.70,417.05 L128.20,416.05 L128.70,415.02 L129.20,413.94 L129.70,412.83 L130.20,411.67 L130.70,410.47 L131.20,409.22 L131.70,407.93 L132.20,406.59 L132.70,405.21 L133.20,403.78 L133.70,402.31 L134.20,400.79 L134.70,399.22 L135.20,397.61 L135.70,395.95 L136.20,394.25 L136.70,392.51 L137.20,390.72 L137.70,388.90 L138.20,387.03 L138.70,385.13 L139.20,383.19 L139.70,381.22 L140.20,379.22 L140.70,377.20 L141.20,375.15 L141.70,373.09 L142.20,371.00 L142.70,368.91 L143.20,366.81 L143.70,364.70 L144.20,362.59 L144.70,360.49 L145.20,358.40 L145.70,356.32 L146.20,354.26 L146.70,352.21 L147.20,350.20 L147.70,348.21 L148.20,346.26 L148.70,344.34 L149.20,342.46 L149.70,340.63 L150.20,338.83 L150.70,337.09 L151.20,335.40 L151.70,333.75 L152.20,332.16 L152.70,330.62 L153.20,329.14 L153.70,327.71 L154.20,326.34 L154.70,325.02 L155.20,323.75 L155.70,322.54 L156.20,321.39 L156.70,320.29 L157.20,319.23 L157.70,318.23 L158.20,317.28 L158.70,316.38 L159.20,315.52 L159.70,314.71 L160.20,313.94 L160.70,313.21 L161.20,312.52 L161.70,311.88 L162.20,311.26 L162.70,310.69 L163.20,310.14 L163.70,309.63 L164.20,309.15 L164.70,308.70 L165.20,308.27 L165.70,307.87 L166.20,307.50 L166.70,307.14 L167.20,306.81 L167.70,306.51 L168.20,306.22 L168.70,305.94 L169.20,305.69 L169.70,305.45 L170.20,305.23 L170.70,305.02 L171.20,304.82 L171.70,304.64 L172.20,304.47 L172.70,304.31 L173.20,304.16 L173.70,304.02 L174.20,303.89 L174.70,303.77 L175.20,303.66 L175.70,303.55 L176.20,303.46 L176.70,303.36 L177.20,303.28 L177.70,303.20 L178.20,303.12 L178.70,303.05 L179.20,302.99 L179.70,302.93 L180.20,302.87 L180.70,302.82 L181.20,302.77 L181.70,302.72 L182.20,302.68 L182.70,302.64" fill="none" stroke="#00c800" stroke-width="4.2" stroke-linejoin="round" stroke-linecap="butt"/>
<path d="M47.70,438.60 C49.25,438.45 54.07,438.00 57.00,437.70 C59.93,437.40 62.30,437.10 65.30,436.80 C68.30,436.50 71.62,436.23 75.00,435.90 C78.38,435.57 82.43,435.23 85.60,434.80 C88.77,434.37 91.30,433.87 94.00,433.30 C96.70,432.73 99.63,432.07 101.80,431.40 C103.97,430.73 105.42,430.08 107.00,429.30 C108.58,428.52 109.97,427.75 111.30,426.70 C112.63,425.65 113.88,424.35 115.00,423.00 C116.12,421.65 117.12,420.18 118.00,418.60 C118.88,417.02 119.62,415.43 120.30,413.50 C120.98,411.57 121.55,409.67 122.10,407.00 C122.65,404.33 123.13,400.87 123.60,397.50 C124.07,394.13 124.22,393.33 124.90,386.80 C125.58,380.27 126.68,367.48 127.70,358.30 C128.72,349.12 129.90,340.03 131.00,331.70 C132.10,323.37 133.35,313.62 134.30,308.30 C135.25,302.98 136.03,301.65 136.70,299.80 C137.37,297.95 137.77,297.20 138.30,297.20 C138.83,297.20 139.23,298.22 139.90,299.80 C140.57,301.38 141.33,301.38 142.30,306.70 C143.27,312.02 144.70,323.10 145.70,331.70 C146.70,340.30 147.42,349.42 148.30,358.30 C149.18,367.18 150.00,376.10 151.00,385.00 C152.00,393.90 153.08,404.12 154.30,411.70 C155.52,419.28 156.52,426.23 158.30,430.50 C160.08,434.77 162.22,435.90 165.00,437.30 C167.78,438.70 172.00,438.55 175.00,438.90 C178.00,439.25 181.67,439.32 183.00,439.40" fill="none" stroke="#ff0000" stroke-width="4.0" stroke-linejoin="round" stroke-linecap="butt"/>
<rect x="321.30" y="439.05" width="147.50" height="2.50" fill="#000"/>
<rect x="369.50" y="437.30" width="2" height="2" fill="#000"/>
<rect x="418.00" y="437.30" width="2" height="2" fill="#000"/>
<text x="314.71" y="457.90" font-size="13" font-weight="normal" fill="#000" textLength="11.75" lengthAdjust="spacingAndGlyphs">-2</text>
<text x="363.99" y="457.90" font-size="13" font-weight="normal" fill="#000" textLength="10.28" lengthAdjust="spacingAndGlyphs">-1</text>
<text x="414.66" y="457.90" font-size="13" font-weight="normal" fill="#000" textLength="7.68" lengthAdjust="spacingAndGlyphs">0</text>
<text x="464.49" y="457.90" font-size="13" font-weight="normal" fill="#000" textLength="5.93" lengthAdjust="spacingAndGlyphs">1</text>
<rect x="320.10" y="286.00" width="2.80" height="155.70" fill="#00c800"/>
<rect x="322.70" y="403.00" width="2" height="2" fill="#00c800"/>
<rect x="322.70" y="366.60" width="2" height="2" fill="#00c800"/>
<rect x="322.70" y="330.20" width="2" height="2" fill="#00c800"/>
<rect x="322.70" y="293.80" width="2" height="2" fill="#00c800"/>
<text x="298.44" y="445.40" font-size="13" font-weight="normal" fill="#10c010" textLength="19.92" lengthAdjust="spacingAndGlyphs">0.0</text>
<text x="298.44" y="409.40" font-size="13" font-weight="normal" fill="#10c010" textLength="19.96" lengthAdjust="spacingAndGlyphs">0.5</text>
<text x="297.88" y="373.00" font-size="13" font-weight="normal" fill="#10c010" textLength="20.50" lengthAdjust="spacingAndGlyphs">1.0</text>
<text x="297.87" y="336.60" font-size="13" font-weight="normal" fill="#10c010" textLength="20.55" lengthAdjust="spacingAndGlyphs">1.5</text>
<text x="298.27" y="300.20" font-size="13" font-weight="normal" fill="#10c010" textLength="20.09" lengthAdjust="spacingAndGlyphs">2.0</text>
<text x="316.90" y="471.50" font-size="12" font-weight="bold" fill="#111" textLength="147.30" lengthAdjust="spacingAndGlyphs">Co-moving Position (mm)</text>
<text transform="translate(292.00,439.80) rotate(-90)" x="-0.31" y="0" font-size="12" font-weight="bold" fill="#00c800" textLength="145.92" lengthAdjust="spacingAndGlyphs">Asp Consumption (μM/s)</text>
<path d="M410.50,364.00 C410.83,362.67 411.75,358.25 412.50,356.00 C413.25,353.75 414.17,351.33 415.00,350.50 C415.83,349.67 417.08,350.92 417.50,351.00" fill="none" stroke="#a8e8a8" stroke-width="5" stroke-linejoin="round" stroke-linecap="butt"/>
<path d="M321.70,438.70 C324.75,438.62 334.73,438.37 340.00,438.20 C345.27,438.03 348.80,437.90 353.30,437.70 C357.80,437.50 362.55,437.33 367.00,437.00 C371.45,436.67 376.83,436.32 380.00,435.70 C383.17,435.08 384.17,434.42 386.00,433.30 C387.83,432.18 389.40,431.22 391.00,429.00 C392.60,426.78 394.27,423.17 395.60,420.00 C396.93,416.83 398.03,412.50 399.00,410.00 C399.97,407.50 400.67,406.67 401.40,405.00 C402.13,403.33 402.55,402.50 403.40,400.00 C404.25,397.50 405.55,393.33 406.50,390.00 C407.45,386.67 408.37,383.33 409.10,380.00 C409.83,376.67 410.32,372.92 410.90,370.00 C411.48,367.08 412.00,364.58 412.60,362.50 C413.20,360.42 413.80,358.68 414.50,357.50 C415.20,356.32 416.00,355.43 416.80,355.40 C417.60,355.37 418.52,356.20 419.30,357.30 C420.08,358.40 420.80,359.88 421.50,362.00 C422.20,364.12 422.75,367.00 423.50,370.00 C424.25,373.00 425.32,376.67 426.00,380.00 C426.68,383.33 427.10,386.67 427.60,390.00 C428.10,393.33 428.43,396.67 429.00,400.00 C429.57,403.33 430.28,406.67 431.00,410.00 C431.72,413.33 432.22,416.67 433.30,420.00 C434.38,423.33 435.88,427.57 437.50,430.00 C439.12,432.43 440.37,433.40 443.00,434.60 C445.63,435.80 449.25,436.58 453.30,437.20 C457.35,437.82 464.97,438.12 467.30,438.30" fill="none" stroke="#00c800" stroke-width="4.2" stroke-linejoin="round" stroke-linecap="butt"/>
<path d="M321.70,439.30 C324.75,439.25 334.73,439.10 340.00,439.00 C345.27,438.90 348.80,438.83 353.30,438.70 C357.80,438.57 362.55,438.43 367.00,438.20 C371.45,437.97 376.58,437.70 380.00,437.30 C383.42,436.90 385.21,437.02 387.50,435.80 C389.79,434.58 391.98,432.63 393.75,430.00 C395.52,427.37 396.58,424.50 398.10,420.00 C399.62,415.50 401.50,409.67 402.90,403.00 C404.30,396.33 405.53,387.17 406.50,380.00 C407.47,372.83 407.98,366.67 408.70,360.00 C409.42,353.33 410.18,345.00 410.80,340.00 C411.42,335.00 411.77,335.00 412.40,330.00 C413.03,325.00 413.90,314.92 414.60,310.00 C415.30,305.08 415.77,302.90 416.60,300.50 C417.43,298.10 418.60,295.68 419.60,295.60 C420.60,295.52 421.88,297.60 422.60,300.00 C423.32,302.40 423.32,305.00 423.90,310.00 C424.48,315.00 425.53,325.00 426.10,330.00 C426.67,335.00 426.77,335.00 427.30,340.00 C427.83,345.00 428.64,353.33 429.30,360.00 C429.96,366.67 430.51,373.33 431.25,380.00 C431.99,386.67 432.92,393.33 433.75,400.00 C434.58,406.67 435.42,415.00 436.25,420.00 C437.08,425.00 437.62,427.33 438.75,430.00 C439.88,432.67 441.12,434.67 443.00,436.00 C444.88,437.33 447.50,437.53 450.00,438.00 C452.50,438.47 455.12,438.60 458.00,438.80 C460.88,439.00 465.75,439.13 467.30,439.20" fill="none" stroke="#f028f0" stroke-width="4.2" stroke-linejoin="round" stroke-linecap="butt"/>
<rect x="543.00" y="439.05" width="143.90" height="2.50" fill="#000"/>
<rect x="589.90" y="437.30" width="2" height="2" fill="#000"/>
<rect x="637.60" y="437.30" width="2" height="2" fill="#000"/>
<text x="536.41" y="457.90" font-size="13" font-weight="normal" fill="#000" textLength="11.75" lengthAdjust="spacingAndGlyphs">-2</text>
<text x="584.49" y="457.90" font-size="13" font-weight="normal" fill="#000" textLength="10.28" lengthAdjust="spacingAndGlyphs">-1</text>
<text x="632.97" y="457.90" font-size="13" font-weight="normal" fill="#000" textLength="7.56" lengthAdjust="spacingAndGlyphs">0</text>
<text x="682.59" y="457.90" font-size="13" font-weight="normal" fill="#000" textLength="5.93" lengthAdjust="spacingAndGlyphs">1</text>
<rect x="541.40" y="294.40" width="2.80" height="147.30" fill="#ff0000"/>
<rect x="544.00" y="414.20" width="2" height="2" fill="#ff0000"/>
<rect x="544.00" y="371.00" width="2" height="2" fill="#ff0000"/>
<rect x="544.00" y="327.80" width="2" height="2" fill="#ff0000"/>
<text x="514.65" y="420.60" font-size="13" font-weight="normal" fill="#d42020" textLength="25.33" lengthAdjust="spacingAndGlyphs">-1.0</text>
<text x="519.32" y="377.40" font-size="13" font-weight="normal" fill="#d42020" textLength="20.66" lengthAdjust="spacingAndGlyphs">0.0</text>
<text x="519.26" y="334.20" font-size="13" font-weight="normal" fill="#d42020" textLength="20.72" lengthAdjust="spacingAndGlyphs">1.0</text>
<text x="535.80" y="471.50" font-size="12" font-weight="bold" fill="#111" textLength="147.70" lengthAdjust="spacingAndGlyphs">Co-moving Position (mm)</text>
<text transform="translate(508.00,453.90) rotate(-90)" x="-0.81" y="0" font-size="12" font-weight="bold" fill="#ff0000" textLength="164.01" lengthAdjust="spacingAndGlyphs">Bacteria Change Rate (OD/s)</text>
<text x="543.20" y="293.50" font-size="13" font-weight="normal" fill="#d42020" textLength="9.30" lengthAdjust="spacingAndGlyphs">×</text>
<text x="554.14" y="292.70" font-size="12.5" font-weight="normal" fill="#d42020" textLength="15.51" lengthAdjust="spacingAndGlyphs">10</text>
<text x="569.94" y="286.10" font-size="10" font-weight="normal" fill="#d42020" textLength="9.16" lengthAdjust="spacingAndGlyphs">-1</text>
<path d="M620.00,410.00 C620.50,411.33 622.08,416.17 623.00,418.00 C623.92,419.83 624.67,421.00 625.50,421.00 C626.33,421.00 627.58,418.50 628.00,418.00" fill="none" stroke="#f8a8a8" stroke-width="6" stroke-linejoin="round" stroke-linecap="butt"/>
<path d="M644.00,322.00 C644.47,320.00 645.88,310.00 646.80,310.00 C647.72,310.00 649.05,320.00 649.50,322.00" fill="none" stroke="#f8a8a8" stroke-width="5" stroke-linejoin="round" stroke-linecap="butt"/>
<path d="M543.60,372.60 C549.78,372.70 572.13,372.97 580.70,373.20 C589.27,373.43 591.45,373.73 595.00,374.00 C598.55,374.27 600.17,374.38 602.00,374.80 C603.83,375.22 604.67,375.55 606.00,376.50 C607.33,377.45 608.50,379.00 610.00,380.50 C611.50,382.00 613.57,383.42 615.00,385.50 C616.43,387.58 617.35,390.30 618.60,393.00 C619.85,395.70 621.43,398.70 622.50,401.70 C623.57,404.70 624.30,408.53 625.00,411.00 C625.70,413.47 626.13,416.17 626.70,416.50 C627.27,416.83 627.85,414.75 628.40,413.00 C628.95,411.25 629.43,408.50 630.00,406.00 C630.57,403.50 630.97,401.50 631.80,398.00 C632.63,394.50 633.92,389.17 635.00,385.00 C636.08,380.83 637.37,378.50 638.30,373.00 C639.23,367.50 639.83,358.33 640.60,352.00 C641.37,345.67 642.17,340.00 642.90,335.00 C643.63,330.00 644.23,325.23 645.00,322.00 C645.77,318.77 646.67,315.60 647.50,315.60 C648.33,315.60 649.17,318.77 650.00,322.00 C650.83,325.23 651.67,330.67 652.50,335.00 C653.33,339.33 653.95,343.67 655.00,348.00 C656.05,352.33 657.20,357.50 658.80,361.00 C660.40,364.50 662.02,367.40 664.60,369.00 C667.18,370.60 670.97,370.22 674.30,370.60 C677.63,370.98 682.88,371.18 684.60,371.30" fill="none" stroke="#ff0000" stroke-width="4.0" stroke-linejoin="round" stroke-linecap="butt"/>
<path d="M543.60,371.90 C546.57,371.97 555.22,372.23 561.40,372.30 C567.58,372.37 575.33,372.47 580.70,372.30 C586.07,372.13 590.38,371.32 593.60,371.30 C596.82,371.28 598.10,371.67 600.00,372.20 C601.90,372.73 603.38,372.62 605.00,374.50 C606.62,376.38 608.32,380.37 609.70,383.50 C611.08,386.63 611.87,388.88 613.30,393.30 C614.73,397.72 616.85,405.05 618.30,410.00 C619.75,414.95 620.75,419.42 622.00,423.00 C623.25,426.58 624.57,431.33 625.80,431.50 C627.03,431.67 628.28,427.58 629.40,424.00 C630.52,420.42 631.57,415.17 632.50,410.00 C633.43,404.83 634.17,398.55 635.00,393.00 C635.83,387.45 636.82,382.87 637.50,376.70 C638.18,370.53 638.58,362.95 639.10,356.00 C639.62,349.05 640.03,341.33 640.60,335.00 C641.17,328.67 641.83,322.42 642.50,318.00 C643.17,313.58 643.70,310.78 644.60,308.50 C645.50,306.22 646.83,304.30 647.90,304.30 C648.97,304.30 650.13,306.22 651.00,308.50 C651.87,310.78 652.37,313.58 653.10,318.00 C653.83,322.42 654.58,329.00 655.40,335.00 C656.22,341.00 657.07,349.00 658.00,354.00 C658.93,359.00 659.83,362.25 661.00,365.00 C662.17,367.75 663.60,369.20 665.00,370.50 C666.40,371.80 667.32,372.45 669.40,372.80 C671.48,373.15 674.97,372.80 677.50,372.60 C680.03,372.40 683.42,371.77 684.60,371.60" fill="none" stroke="#14c3f0" stroke-width="4.2" stroke-linejoin="round" stroke-linecap="butt"/>
<text x="284.91" y="20.80" style="font-family:'Liberation Serif'" font-size="14" font-weight="bold" fill="#18c018" stroke="#18c018" stroke-width="0.1" textLength="10.66" lengthAdjust="spacingAndGlyphs">−</text>
<text x="295.80" y="20.80" style="font-family:'Liberation Serif'" font-size="14" font-weight="bold" font-style="italic" fill="#18c018" stroke="#18c018" stroke-width="0.35" textLength="6.00" lengthAdjust="spacingAndGlyphs">c</text>
<text x="301.03" y="20.80" style="font-family:'Liberation Sans'" font-size="14" font-weight="bold" font-style="italic" fill="#18c018" stroke="#18c018" stroke-width="0.35" textLength="9.19" lengthAdjust="spacingAndGlyphs">∂</text>
<text x="311.17" y="23.80" style="font-family:'Liberation Serif'" font-size="9.5" font-weight="bold" font-style="italic" fill="#18c018" stroke="#18c018" stroke-width="0.45" textLength="5.08" lengthAdjust="spacingAndGlyphs">z</text>
<text x="317.63" y="20.80" style="font-family:'Liberation Serif'" font-size="14" font-weight="bold" font-style="italic" fill="#18c018" stroke="#18c018" stroke-width="0.35" textLength="8.17" lengthAdjust="spacingAndGlyphs">A</text>
<text x="328.77" y="20.80" style="font-family:'Liberation Serif'" font-size="14" font-weight="bold" fill="#18c018" stroke="#18c018" stroke-width="0.1" textLength="11.16" lengthAdjust="spacingAndGlyphs">−</text>
<text x="342.71" y="20.80" style="font-family:'Liberation Sans'" font-size="14" font-weight="bold" font-style="italic" fill="#18c018" stroke="#18c018" stroke-width="0.35" textLength="7.94" lengthAdjust="spacingAndGlyphs">∂</text>
<text x="351.12" y="14.90" style="font-family:'Liberation Serif'" font-size="9.5" font-weight="bold" font-style="italic" fill="#18c018" stroke="#18c018" stroke-width="0.45" textLength="4.91" lengthAdjust="spacingAndGlyphs">2</text>
<text x="351.33" y="23.80" style="font-family:'Liberation Serif'" font-size="9.5" font-weight="bold" font-style="italic" fill="#18c018" stroke="#18c018" stroke-width="0.45" textLength="4.52" lengthAdjust="spacingAndGlyphs">z</text>
<text x="357.58" y="21.40" style="font-family:'Liberation Serif'" font-size="14" fill="#18c018" stroke="#18c018" stroke-width="0.35" textLength="6.22" lengthAdjust="spacingAndGlyphs">(</text>
<text x="364.10" y="20.80" style="font-family:'Liberation Serif'" font-size="14" font-weight="bold" font-style="italic" fill="#18c018" stroke="#18c018" stroke-width="0.35" textLength="9.82" lengthAdjust="spacingAndGlyphs">D</text>
<text x="374.80" y="23.80" style="font-family:'Liberation Serif'" font-size="9.5" font-weight="bold" font-style="italic" fill="#18c018" stroke="#18c018" stroke-width="0.45" textLength="5.12" lengthAdjust="spacingAndGlyphs">A</text>
<text x="382.53" y="20.80" style="font-family:'Liberation Serif'" font-size="14" font-weight="bold" font-style="italic" fill="#18c018" stroke="#18c018" stroke-width="0.35" textLength="8.17" lengthAdjust="spacingAndGlyphs">A</text>
<text x="389.95" y="21.40" style="font-family:'Liberation Serif'" font-size="14" fill="#18c018" stroke="#18c018" stroke-width="0.35" textLength="6.74" lengthAdjust="spacingAndGlyphs">)</text>
<text x="400.02" y="20.20" style="font-family:'Liberation Serif'" font-size="14" font-weight="bold" fill="#444" stroke="#444" stroke-width="0.1" textLength="11.16" lengthAdjust="spacingAndGlyphs">=</text>
<text x="418.07" y="20.80" style="font-family:'Liberation Serif'" font-size="14" font-style="italic" fill="#e85ae8" stroke="#e85ae8" stroke-width="0.4" textLength="7.23" lengthAdjust="spacingAndGlyphs">γ</text>
<rect x="428.7" y="15.9" width="44.8" height="1.3" fill="#e85ae8"/>
<text x="447.20" y="10.60" style="font-family:'Liberation Serif'" font-size="14" font-weight="bold" font-style="italic" fill="#e85ae8" stroke="#e85ae8" stroke-width="0.35" textLength="7.77" lengthAdjust="spacingAndGlyphs">A</text>
<text x="430.00" y="29.90" style="font-family:'Liberation Serif'" font-size="14" font-weight="bold" font-style="italic" fill="#e85ae8" stroke="#e85ae8" stroke-width="0.35" textLength="7.77" lengthAdjust="spacingAndGlyphs">A</text>
<text x="440.72" y="28.60" style="font-family:'Liberation Serif'" font-size="14" font-weight="bold" fill="#e85ae8" stroke="#e85ae8" stroke-width="0.1" textLength="10.54" lengthAdjust="spacingAndGlyphs">+</text>
<text x="455.30" y="29.90" style="font-family:'Liberation Serif'" font-size="14" font-weight="bold" font-style="italic" fill="#e85ae8" stroke="#e85ae8" stroke-width="0.35" textLength="7.77" lengthAdjust="spacingAndGlyphs">A</text>
<text x="463.09" y="32.30" style="font-family:'Liberation Serif'" font-size="9.5" font-style="italic" fill="#e85ae8" stroke="#e85ae8" stroke-width="0.3" textLength="7.10" lengthAdjust="spacingAndGlyphs">h</text>
<text x="476.52" y="20.00" style="font-family:'Liberation Serif'" font-size="14" font-weight="bold" font-style="italic" fill="#e85ae8" stroke="#e85ae8" stroke-width="0.35" textLength="8.97" lengthAdjust="spacingAndGlyphs">B</text>
<text x="565.17" y="11.70" style="font-family:'Liberation Serif'" font-size="14" font-weight="bold" fill="#e01616" stroke="#e01616" stroke-width="0.1" textLength="10.05" lengthAdjust="spacingAndGlyphs">−</text>
<text x="575.79" y="11.70" style="font-family:'Liberation Serif'" font-size="14" font-weight="bold" font-style="italic" fill="#e01616" stroke="#e01616" stroke-width="0.35" textLength="6.42" lengthAdjust="spacingAndGlyphs">c</text>
<text x="581.66" y="11.70" style="font-family:'Liberation Sans'" font-size="14" font-weight="bold" font-style="italic" fill="#e01616" stroke="#e01616" stroke-width="0.35" textLength="8.74" lengthAdjust="spacingAndGlyphs">∂</text>
<text x="591.56" y="14.50" style="font-family:'Liberation Serif'" font-size="9.5" font-weight="bold" font-style="italic" fill="#e01616" stroke="#e01616" stroke-width="0.45" textLength="4.89" lengthAdjust="spacingAndGlyphs">z</text>
<text x="597.42" y="11.70" style="font-family:'Liberation Serif'" font-size="14" font-weight="bold" font-style="italic" fill="#e01616" stroke="#e01616" stroke-width="0.35" textLength="8.56" lengthAdjust="spacingAndGlyphs">B</text>
<text x="609.57" y="11.70" style="font-family:'Liberation Serif'" font-size="14" font-weight="bold" fill="#e01616" stroke="#e01616" stroke-width="0.1" textLength="11.16" lengthAdjust="spacingAndGlyphs">−</text>
<text x="624.30" y="11.70" style="font-family:'Liberation Serif'" font-size="14" font-weight="bold" font-style="italic" fill="#e01616" stroke="#e01616" stroke-width="0.35" textLength="18.57" lengthAdjust="spacingAndGlyphs">αB</text>
<text x="646.92" y="11.40" style="font-family:'Liberation Serif'" font-size="14" font-weight="bold" fill="#444" stroke="#444" stroke-width="0.1" textLength="11.16" lengthAdjust="spacingAndGlyphs">=</text>
<text x="532.51" y="28.70" style="font-family:'Liberation Sans'" font-size="14" font-weight="bold" font-style="italic" fill="#1eb4eb" stroke="#1eb4eb" stroke-width="0.35" textLength="7.94" lengthAdjust="spacingAndGlyphs">∂</text>
<text x="540.91" y="23.10" style="font-family:'Liberation Serif'" font-size="9.5" font-weight="bold" font-style="italic" fill="#1eb4eb" stroke="#1eb4eb" stroke-width="0.45" textLength="4.50" lengthAdjust="spacingAndGlyphs">2</text>
<text x="541.10" y="31.70" style="font-family:'Liberation Serif'" font-size="9.5" font-weight="bold" font-style="italic" fill="#1eb4eb" stroke="#1eb4eb" stroke-width="0.45" textLength="4.14" lengthAdjust="spacingAndGlyphs">z</text>
<text x="547.13" y="29.30" style="font-family:'Liberation Serif'" font-size="14" fill="#1eb4eb" stroke="#1eb4eb" stroke-width="0.35" textLength="5.06" lengthAdjust="spacingAndGlyphs">(</text>
<text x="552.60" y="28.70" style="font-family:'Liberation Serif'" font-size="14" font-weight="bold" font-style="italic" fill="#1eb4eb" stroke="#1eb4eb" stroke-width="0.35" textLength="9.41" lengthAdjust="spacingAndGlyphs">D</text>
<text x="563.08" y="31.30" style="font-family:'Liberation Serif'" font-size="9.5" font-weight="bold" font-style="italic" fill="#1eb4eb" stroke="#1eb4eb" stroke-width="0.45" textLength="5.43" lengthAdjust="spacingAndGlyphs">B</text>
<text x="571.72" y="28.70" style="font-family:'Liberation Serif'" font-size="14" font-weight="bold" font-style="italic" fill="#1eb4eb" stroke="#1eb4eb" stroke-width="0.35" textLength="8.66" lengthAdjust="spacingAndGlyphs">B</text>
<text x="580.66" y="29.30" style="font-family:'Liberation Serif'" font-size="14" fill="#1eb4eb" stroke="#1eb4eb" stroke-width="0.35" textLength="5.58" lengthAdjust="spacingAndGlyphs">)</text>
<text x="590.12" y="28.70" style="font-family:'Liberation Serif'" font-size="14" font-weight="bold" fill="#1eb4eb" stroke="#1eb4eb" stroke-width="0.1" textLength="10.54" lengthAdjust="spacingAndGlyphs">−</text>
<text x="603.61" y="28.70" style="font-family:'Liberation Sans'" font-size="14" font-weight="bold" font-style="italic" fill="#1eb4eb" stroke="#1eb4eb" stroke-width="0.35" textLength="7.83" lengthAdjust="spacingAndGlyphs">∂</text>
<text x="612.63" y="31.70" style="font-family:'Liberation Serif'" font-size="9.5" font-weight="bold" font-style="italic" fill="#1eb4eb" stroke="#1eb4eb" stroke-width="0.45" textLength="4.52" lengthAdjust="spacingAndGlyphs">z</text>
<text x="617.73" y="29.30" style="font-family:'Liberation Serif'" font-size="14" fill="#1eb4eb" stroke="#1eb4eb" stroke-width="0.35" textLength="5.06" lengthAdjust="spacingAndGlyphs">(</text>
<text x="624.23" y="29.00" style="font-family:'Liberation Serif'" font-size="14" font-weight="bold" font-style="italic" fill="#1eb4eb" stroke="#1eb4eb" stroke-width="0.35" textLength="7.80" lengthAdjust="spacingAndGlyphs">χ</text>
<text x="633.71" y="28.70" style="font-family:'Liberation Serif'" font-size="14" font-weight="bold" font-style="italic" fill="#1eb4eb" stroke="#1eb4eb" stroke-width="0.35" textLength="7.83" lengthAdjust="spacingAndGlyphs">B</text>
<text x="641.91" y="28.70" style="font-family:'Liberation Sans'" font-size="14" font-weight="bold" font-style="italic" fill="#1eb4eb" stroke="#1eb4eb" stroke-width="0.35" textLength="7.83" lengthAdjust="spacingAndGlyphs">∂</text>
<text x="650.93" y="31.70" style="font-family:'Liberation Serif'" font-size="9.5" font-weight="bold" font-style="italic" fill="#1eb4eb" stroke="#1eb4eb" stroke-width="0.45" textLength="4.52" lengthAdjust="spacingAndGlyphs">z</text>
<text x="656.82" y="28.70" style="font-family:'Liberation Sans'" font-size="14" font-weight="bold" fill="#1eb4eb" stroke="#1eb4eb" stroke-width="0.2" textLength="10.26" lengthAdjust="spacingAndGlyphs">Φ</text>
<text x="667.10" y="29.30" style="font-family:'Liberation Serif'" font-size="14" fill="#1eb4eb" stroke="#1eb4eb" stroke-width="0.35" textLength="5.83" lengthAdjust="spacingAndGlyphs">[</text>
<text x="675.13" y="28.70" style="font-family:'Liberation Serif'" font-size="14" font-weight="bold" font-style="italic" fill="#1eb4eb" stroke="#1eb4eb" stroke-width="0.35" textLength="8.07" lengthAdjust="spacingAndGlyphs">A</text>
<text x="683.43" y="29.30" style="font-family:'Liberation Serif'" font-size="14" fill="#1eb4eb" stroke="#1eb4eb" stroke-width="0.35" textLength="5.23" lengthAdjust="spacingAndGlyphs">]</text>
<text x="688.21" y="29.30" style="font-family:'Liberation Serif'" font-size="14" fill="#1eb4eb" stroke="#1eb4eb" stroke-width="0.35" textLength="6.09" lengthAdjust="spacingAndGlyphs">)</text>
</svg>
</body></html>
